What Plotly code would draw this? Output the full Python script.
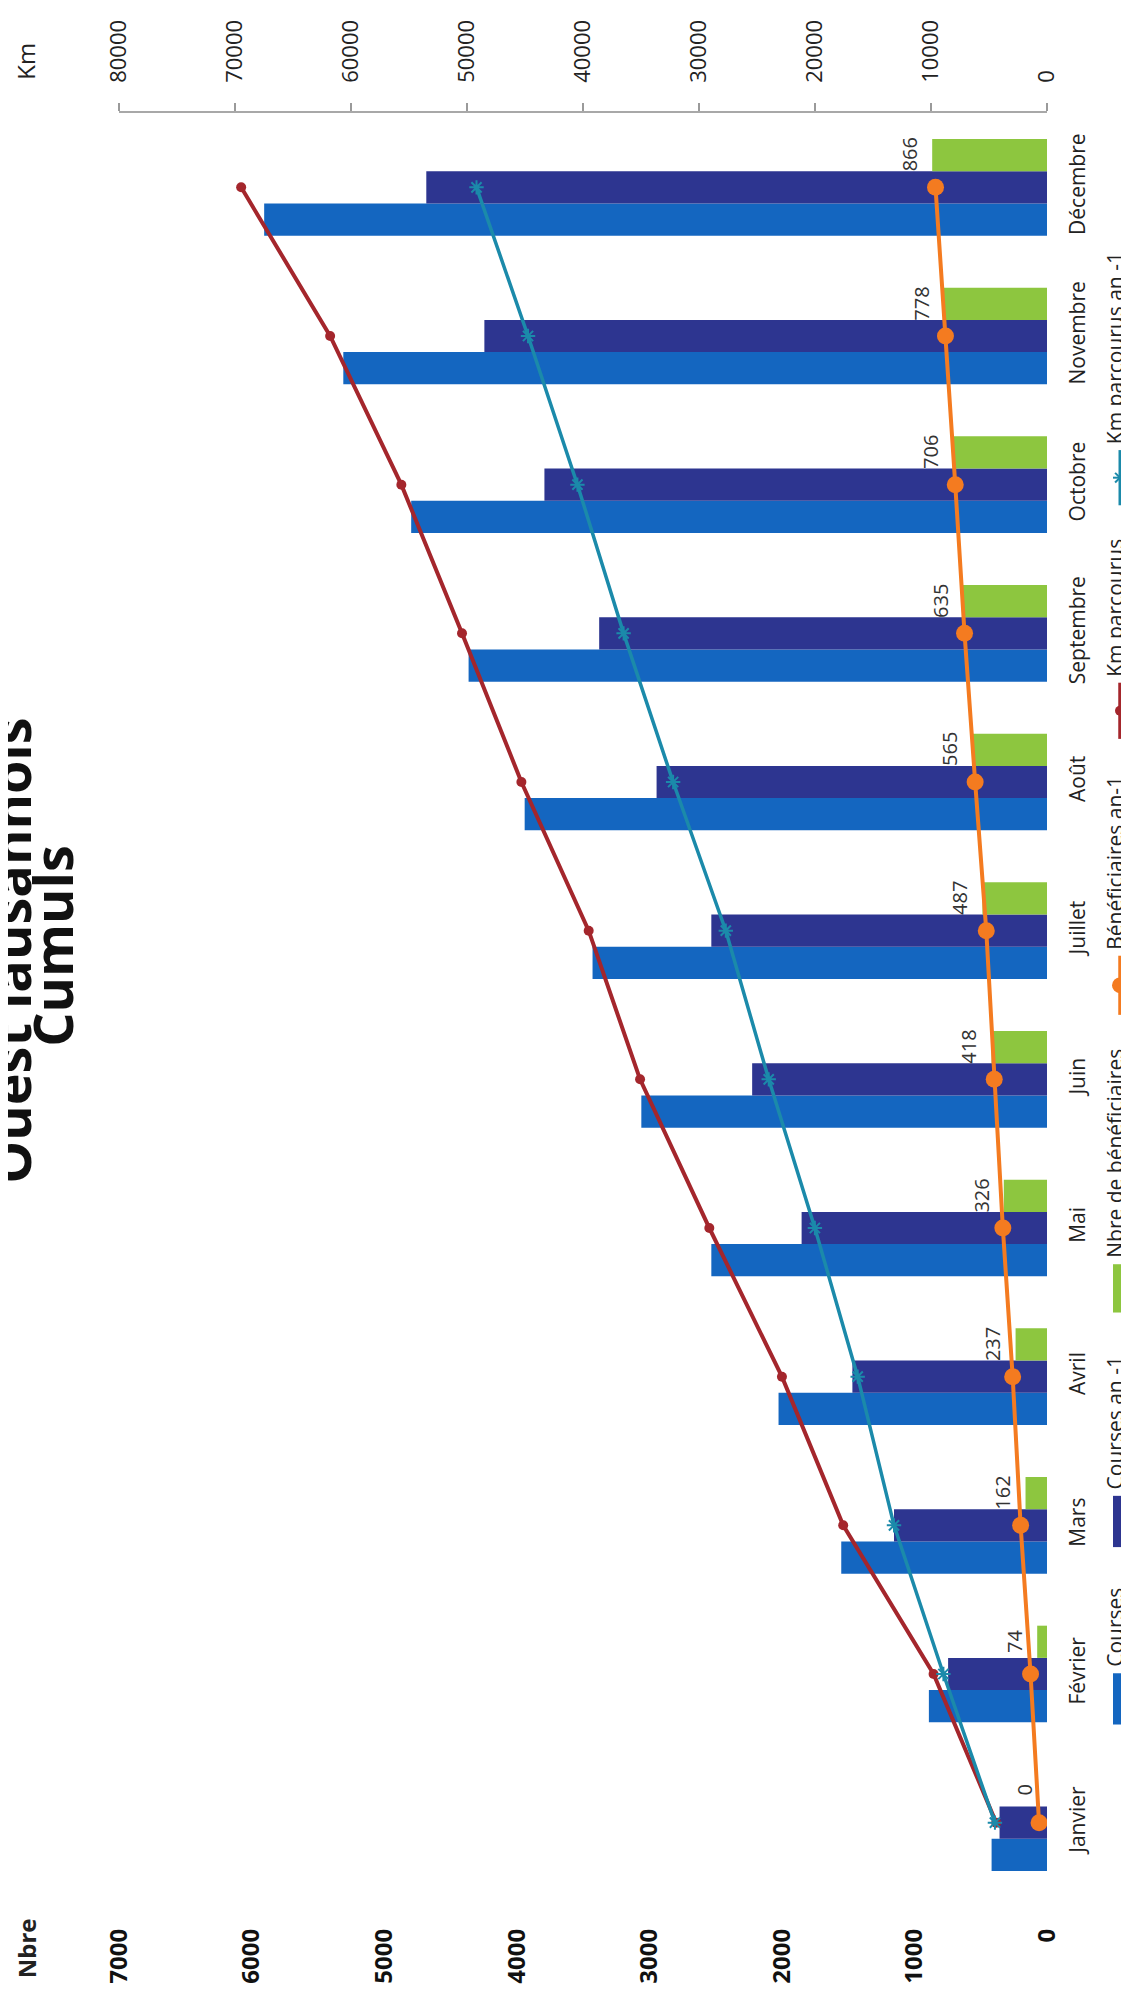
import plotly.graph_objects as go

# ---------------- data ----------------
months = ["Janvier", "Février", "Mars", "Avril", "Mai", "Juin", "Juillet",
          "Août", "Septembre", "Octobre", "Novembre", "Décembre"]
courses = [418, 891, 1552, 2025, 2532, 3060, 3428, 3940, 4363, 4796, 5308, 5905]
courses_prev = [358, 746, 1154, 1468, 1851, 2224, 2532, 2945, 3378, 3791, 4244, 4682]
beneficiaires = [0, 74, 162, 237, 326, 418, 487, 565, 635, 706, 778, 866]
beneficiaires_prev = [60, 124, 199, 259, 333, 398, 458, 542, 622, 692, 766, 841]
km = [4380, 9780, 17570, 22850, 29110, 35080, 39510, 45310, 50430, 55660, 61800, 69470]
km_prev = [4490, 8930, 13190, 16320, 20010, 23990, 27690, 32230, 36500, 40480, 44740, 49180]
nbre_ticks = [0, 1000, 2000, 3000, 4000, 5000, 6000, 7000]
km_ticks = [0, 10000, 20000, 30000, 40000, 50000, 60000, 70000, 80000]
legend_labels = ["Courses", "Courses an -1", "Nbre de bénéficiaires",
                 "Bénéficiaires an-1", "Km parcourus", "Km parcourus an -1"]

# ---------------- style ----------------
BLUE = "#1466C0"
NAVY = "#2D3590"
GREEN = "#8DC63F"
ORANGE = "#F47B20"
RED = "#A4262C"
TEAL = "#1B8AAA"
FONT = "Open Sans"

# the page body has an 8px margin: figure is placed at (8, 8) on screen
W, H = 1121, 1988
L, R, T, B = 111, 82, 97, 81
PW, PH = W - L - R, H - T - B
SX0, SY_BOTTOM = 8 + L, 8 + H - B   # screen x of plot left, screen y of plot bottom


def px(sx):
    return (sx - SX0) / PW


def py(sy):
    return (SY_BOTTOM - sy) / PH


BAR_SHIFT = PH / len(months) * (1 - 0.35) / 3   # green bar centre offset (px)

fig = go.Figure()
fig.add_bar(y=months, x=courses, orientation="h", name=legend_labels[0],
            marker=dict(color=BLUE, line=dict(width=0)))
fig.add_bar(y=months, x=courses_prev, orientation="h", name=legend_labels[1],
            marker=dict(color=NAVY, line=dict(width=0)))
fig.add_bar(y=months, x=beneficiaires, orientation="h", name=legend_labels[2],
            marker=dict(color=GREEN, line=dict(width=0)))
fig.add_scatter(y=months, x=beneficiaires_prev, mode="lines+markers",
                name=legend_labels[3],
                line=dict(color=ORANGE, width=4),
                marker=dict(size=17, color=ORANGE))
fig.add_scatter(y=months, x=km, xaxis="x2", mode="lines+markers",
                name=legend_labels[4],
                line=dict(color=RED, width=4),
                marker=dict(size=10, color=RED))
fig.add_scatter(y=months, x=km_prev, xaxis="x2", mode="lines+markers",
                name=legend_labels[5],
                line=dict(color=TEAL, width=3.5),
                marker=dict(symbol="asterisk-open", size=12,
                            line=dict(color=TEAL, width=2)))

annotations = []
# data labels of the green bars
for m, v in zip(months, beneficiaires):
    annotations.append(dict(text=str(v), x=v, y=m, xref="x", yref="y",
                            textangle=-90, showarrow=False,
                            xanchor="right", yanchor="middle",
                            xshift=-7, yshift=BAR_SHIFT,
                            font=dict(size=20, family=FONT, color="#333333")))

annotations += [
    dict(text="<b>Ouest lausannois</b>", x=px(10), y=py(955), xref="paper", yref="paper",
         textangle=-90, showarrow=False, font=dict(size=54, family=FONT, color="#111"),
         xanchor="center", yanchor="middle"),
    dict(text="<b>Cumuls</b>", x=px(52), y=py(950), xref="paper", yref="paper",
         textangle=-90, showarrow=False, font=dict(size=54, family=FONT, color="#111"),
         xanchor="center", yanchor="middle"),
    dict(text="<b>Nbre</b>", x=px(26), y=py(1967), xref="paper", yref="paper",
         textangle=-90, showarrow=False, font=dict(size=24, family=FONT, color="#222"),
         xanchor="center", yanchor="middle"),
    dict(text="Km", x=px(26), y=py(53), xref="paper", yref="paper",
         textangle=-90, showarrow=False, font=dict(size=24, family=FONT, color="#222"),
         xanchor="center", yanchor="middle"),
]

shapes = []
# legend: (marker kind, colour, marker y-range in screen px)
legend_spec = [
    ("rect", BLUE, 1688, 1740),
    ("rect", NAVY, 1508, 1560),
    ("rect", GREEN, 1273, 1322),
    ("circle", ORANGE, 960, 1020),
    ("dot", RED, 683, 740),
    ("star", TEAL, 447, 503),
]
LX = 1120
for label, (kind, col, y0, y1) in zip(legend_labels, legend_spec):
    if kind == "rect":
        shapes.append(dict(type="rect", xref="paper", yref="paper",
                           x0=px(LX - 7), x1=px(LX + 7), y0=py(y1), y1=py(y0),
                           fillcolor=col, line=dict(width=0)))
    else:
        lw = 3.5 if kind != "star" else 3
        shapes.append(dict(type="line", xref="paper", yref="paper",
                           x0=px(LX), x1=px(LX), y0=py(y1), y1=py(y0),
                           line=dict(color=col, width=lw)))
        ym = (y0 + y1) / 2
        if kind == "circle":
            r = 8
            shapes.append(dict(type="circle", xref="paper", yref="paper",
                               x0=px(LX - r), x1=px(LX + r), y0=py(ym + r), y1=py(ym - r),
                               fillcolor=col, line=dict(width=0)))
        elif kind == "dot":
            r = 5
            shapes.append(dict(type="circle", xref="paper", yref="paper",
                               x0=px(LX - r), x1=px(LX + r), y0=py(ym + r), y1=py(ym - r),
                               fillcolor=col, line=dict(width=0)))
        else:
            r = 7
            for dx, dy in [(r, 0), (r * 0.7, r * 0.7), (r * 0.7, -r * 0.7)]:
                shapes.append(dict(type="line", xref="paper", yref="paper",
                                   x0=px(LX - dx), x1=px(LX + dx),
                                   y0=py(ym - dy), y1=py(ym + dy),
                                   line=dict(color=col, width=2)))
    annotations.append(dict(text=label, x=px(1115), y=py(y0 - 4), xref="paper", yref="paper",
                            textangle=-90, showarrow=False,
                            font=dict(size=21, family=FONT, color="#222"),
                            xanchor="center", yanchor="bottom"))

fig.update_layout(
    width=W, height=H,
    margin=dict(l=L, r=R, t=T, b=B, pad=0),
    paper_bgcolor="white", plot_bgcolor="white",
    font=dict(family=FONT, color="#222"),
    barmode="group", bargap=0.35, bargroupgap=0,
    showlegend=False,
    xaxis=dict(range=[7000, 0], tickvals=nbre_ticks, tickangle=-90,
               tickfont=dict(size=24, family=FONT, weight="bold", color="#111"),
               showgrid=False, zeroline=False, showline=False, ticks="",
               ticklabelstandoff=26),
    xaxis2=dict(overlaying="x", side="top", range=[80000, 0], tickvals=km_ticks,
                tickformat="d",
                tickangle=-90, tickfont=dict(size=22, family=FONT, color="#222"),
                ticks="outside", ticklen=8, tickcolor="#9A9A9A", tickwidth=1.5,
                showline=True, linecolor="#A8A8A8", linewidth=1.5,
                showgrid=False, zeroline=False, ticklabelstandoff=16),
    yaxis=dict(type="category", categoryorder="array", categoryarray=months,
               side="right", tickangle=-90,
               tickfont=dict(size=21, family=FONT, color="#222"),
               showgrid=False, zeroline=False, showline=False, ticks="",
               ticklabelstandoff=16, range=[-0.5, 11.5]),
    annotations=annotations,
    shapes=shapes,
)

fig.write_html("out.html")
